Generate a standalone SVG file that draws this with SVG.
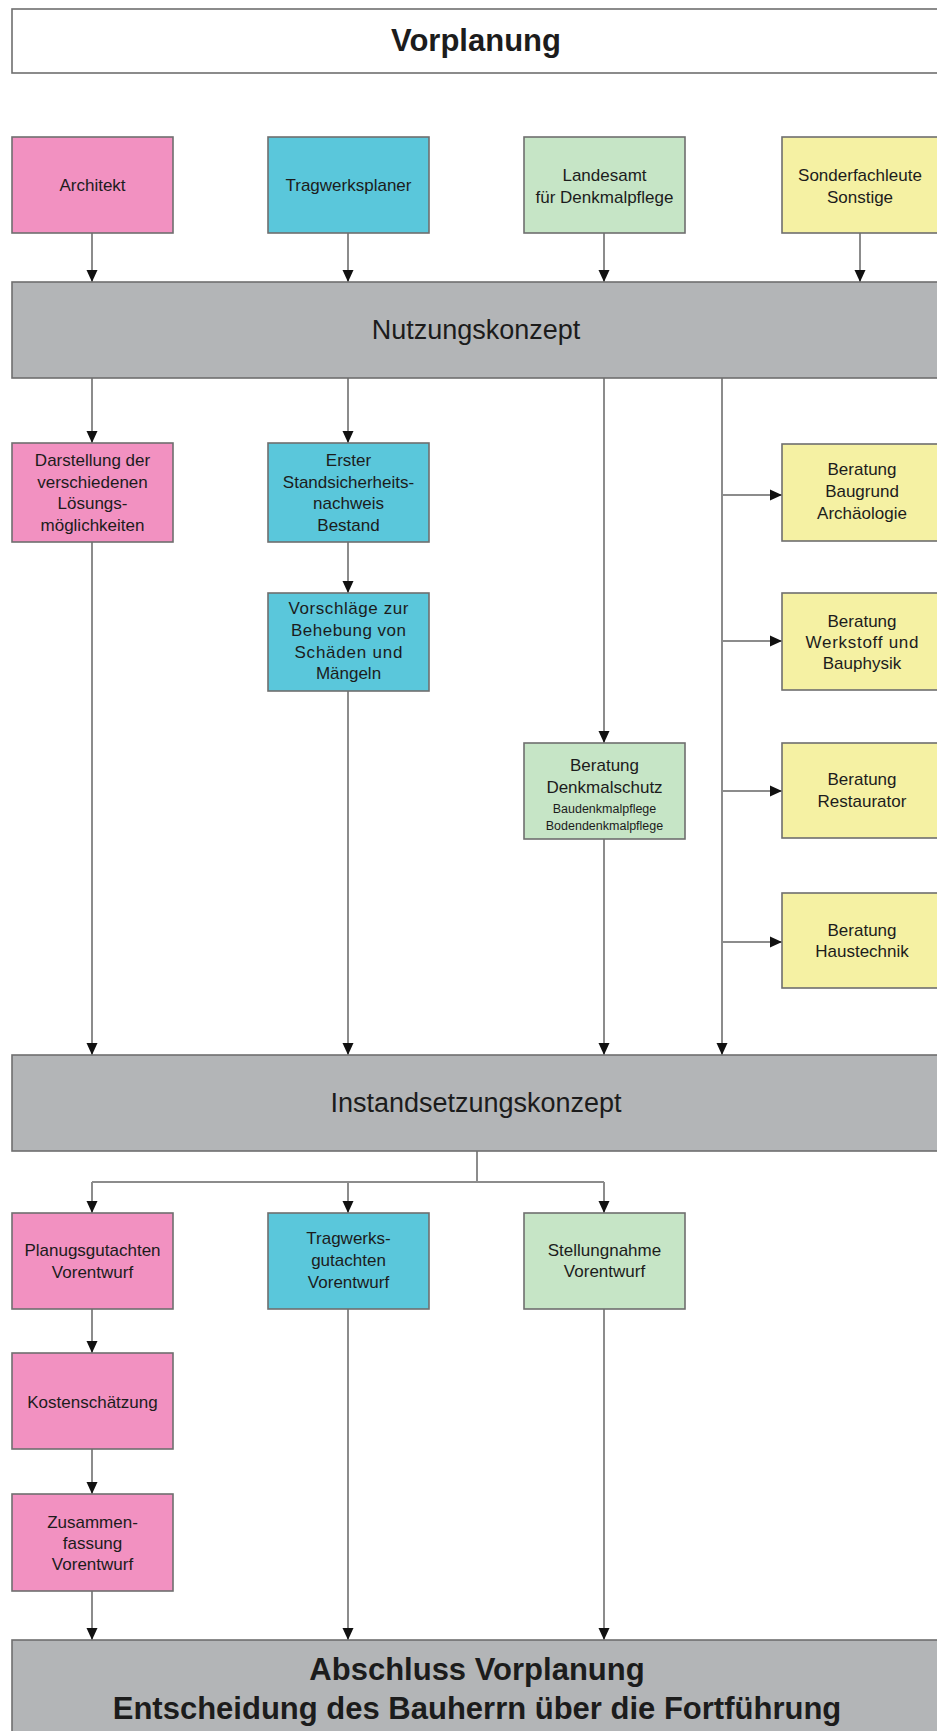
<svg xmlns="http://www.w3.org/2000/svg" width="937" height="1731" viewBox="0 0 937 1731">
<style>
.n{stroke:#6f6f6f;stroke-width:1.6}
.pk{fill:#f291c1}.cy{fill:#5ac7db}.gr{fill:#c6e5c6}.ye{fill:#f5f1a3}.ba{fill:#b3b5b7}.wh{fill:#ffffff}
text{font-family:"Liberation Sans",Arial,sans-serif;fill:#1c1c1c;text-anchor:middle}
.t{font-size:17px}
.s{font-size:12.5px}
.b{font-size:27px}
.h{font-size:31px;font-weight:bold}
.c{fill:none;stroke:#8c8c8c;stroke-width:2}
</style>
<defs>
<marker id="a" markerWidth="12" markerHeight="12" refX="12" refY="6" orient="auto" markerUnits="userSpaceOnUse">
<path d="M0,0.5 L12,6 L0,11.5 z" fill="#111"/>
</marker>
</defs>
<rect width="937" height="1731" fill="#ffffff"/>

<g id="connectors">
<path class="c" marker-end="url(#a)" d="M92,233 V282"/>
<path class="c" marker-end="url(#a)" d="M348,233 V282"/>
<path class="c" marker-end="url(#a)" d="M604,233 V282"/>
<path class="c" marker-end="url(#a)" d="M860,233 V282"/>
<path class="c" marker-end="url(#a)" d="M92,378 V443"/>
<path class="c" marker-end="url(#a)" d="M348,378 V443"/>
<path class="c" marker-end="url(#a)" d="M348,542 V593"/>
<path class="c" marker-end="url(#a)" d="M604,378 V743"/>
<path class="c" marker-end="url(#a)" d="M722,378 V1055"/>
<path class="c" marker-end="url(#a)" d="M722,495 H782"/>
<path class="c" marker-end="url(#a)" d="M722,641 H782"/>
<path class="c" marker-end="url(#a)" d="M722,791 H782"/>
<path class="c" marker-end="url(#a)" d="M722,942 H782"/>
<path class="c" marker-end="url(#a)" d="M92,542 V1055"/>
<path class="c" marker-end="url(#a)" d="M348,691 V1055"/>
<path class="c" marker-end="url(#a)" d="M604,839 V1055"/>
<path class="c" d="M477,1151 V1182 M92,1182 H604"/>
<path class="c" marker-end="url(#a)" d="M92,1182 V1213"/>
<path class="c" marker-end="url(#a)" d="M348,1182 V1213"/>
<path class="c" marker-end="url(#a)" d="M604,1182 V1213"/>
<path class="c" marker-end="url(#a)" d="M92,1309 V1353"/>
<path class="c" marker-end="url(#a)" d="M92,1449 V1494"/>
<path class="c" marker-end="url(#a)" d="M92,1591 V1640"/>
<path class="c" marker-end="url(#a)" d="M348,1309 V1640"/>
<path class="c" marker-end="url(#a)" d="M604,1309 V1640"/>
</g>

<g id="vorplanung">
<rect class="n wh" x="12" y="9" width="930" height="64"/>
<text class="h" x="476" y="51">Vorplanung</text>
</g>

<g id="architekt">
<rect class="n pk" x="12" y="137" width="161" height="96"/>
<text class="t" x="92.5" y="191">Architekt</text>
</g>
<g id="tragwerksplaner">
<rect class="n cy" x="268" y="137" width="161" height="96"/>
<text class="t" x="348.5" y="191">Tragwerksplaner</text>
</g>
<g id="landesamt">
<rect class="n gr" x="524" y="137" width="161" height="96"/>
<text class="t" x="604.5" y="181">Landesamt</text>
<text class="t" x="604.5" y="203">für Denkmalpflege</text>
</g>
<g id="sonderfachleute">
<rect class="n ye" x="782" y="137" width="160" height="96"/>
<text class="t" x="860" y="181">Sonderfachleute</text>
<text class="t" x="860" y="203">Sonstige</text>
</g>

<g id="nutzungskonzept">
<rect class="n ba" x="12" y="282" width="930" height="96"/>
<text class="b" x="476" y="339">Nutzungskonzept</text>
</g>

<g id="darstellung">
<rect class="n pk" x="12" y="443" width="161" height="99"/>
<text class="t" x="92.5" y="466">Darstellung der</text>
<text class="t" x="92.5" y="488">verschiedenen</text>
<text class="t" x="92.5" y="509">Lösungs-</text>
<text class="t" x="92.5" y="531">möglichkeiten</text>
</g>
<g id="standsicherheit">
<rect class="n cy" x="268" y="443" width="161" height="99"/>
<text class="t" x="348.5" y="466">Erster</text>
<text class="t" x="348.5" y="488">Standsicherheits-</text>
<text class="t" x="348.5" y="509">nachweis</text>
<text class="t" x="348.5" y="531">Bestand</text>
</g>
<g id="vorschlaege">
<rect class="n cy" x="268" y="593" width="161" height="98"/>
<text class="t" x="348.5" y="614" textLength="120" lengthAdjust="spacing">Vorschläge zur</text>
<text class="t" x="348.5" y="636" textLength="115" lengthAdjust="spacing">Behebung von</text>
<text class="t" x="348.5" y="658" textLength="108" lengthAdjust="spacing">Schäden und</text>
<text class="t" x="348.5" y="679">Mängeln</text>
</g>
<g id="baugrund">
<rect class="n ye" x="782" y="444" width="160" height="97"/>
<text class="t" x="862" y="475">Beratung</text>
<text class="t" x="862" y="497">Baugrund</text>
<text class="t" x="862" y="519">Archäologie</text>
</g>
<g id="werkstoff">
<rect class="n ye" x="782" y="593" width="160" height="97"/>
<text class="t" x="862" y="627">Beratung</text>
<text class="t" x="862" y="648" textLength="113" lengthAdjust="spacing">Werkstoff und</text>
<text class="t" x="862" y="669">Bauphysik</text>
</g>
<g id="denkmalschutz">
<rect class="n gr" x="524" y="743" width="161" height="96"/>
<text class="t" x="604.5" y="771">Beratung</text>
<text class="t" x="604.5" y="793">Denkmalschutz</text>
<text class="s" x="604.5" y="813">Baudenkmalpflege</text>
<text class="s" x="604.5" y="830">Bodendenkmalpflege</text>
</g>
<g id="restaurator">
<rect class="n ye" x="782" y="743" width="160" height="95"/>
<text class="t" x="862" y="785">Beratung</text>
<text class="t" x="862" y="807">Restaurator</text>
</g>
<g id="haustechnik">
<rect class="n ye" x="782" y="893" width="160" height="95"/>
<text class="t" x="862" y="936">Beratung</text>
<text class="t" x="862" y="957">Haustechnik</text>
</g>

<g id="instandsetzungskonzept">
<rect class="n ba" x="12" y="1055" width="930" height="96"/>
<text class="b" x="476" y="1112">Instandsetzungskonzept</text>
</g>

<g id="planungsgutachten">
<rect class="n pk" x="12" y="1213" width="161" height="96"/>
<text class="t" x="92.5" y="1256">Planugsgutachten</text>
<text class="t" x="92.5" y="1278">Vorentwurf</text>
</g>
<g id="tragwerksgutachten">
<rect class="n cy" x="268" y="1213" width="161" height="96"/>
<text class="t" x="348.5" y="1244">Tragwerks-</text>
<text class="t" x="348.5" y="1266">gutachten</text>
<text class="t" x="348.5" y="1288">Vorentwurf</text>
</g>
<g id="stellungnahme">
<rect class="n gr" x="524" y="1213" width="161" height="96"/>
<text class="t" x="604.5" y="1256">Stellungnahme</text>
<text class="t" x="604.5" y="1277">Vorentwurf</text>
</g>
<g id="kostenschaetzung">
<rect class="n pk" x="12" y="1353" width="161" height="96"/>
<text class="t" x="92.5" y="1408">Kostenschätzung</text>
</g>
<g id="zusammenfassung">
<rect class="n pk" x="12" y="1494" width="161" height="97"/>
<text class="t" x="92.5" y="1528">Zusammen-</text>
<text class="t" x="92.5" y="1549">fassung</text>
<text class="t" x="92.5" y="1570">Vorentwurf</text>
</g>

<g id="abschluss">
<rect class="n ba" x="12" y="1640" width="930" height="100"/>
<text class="h" x="477" y="1680">Abschluss Vorplanung</text>
<text class="h" x="477" y="1719">Entscheidung des Bauherrn über die Fortführung</text>
</g>
</svg>
